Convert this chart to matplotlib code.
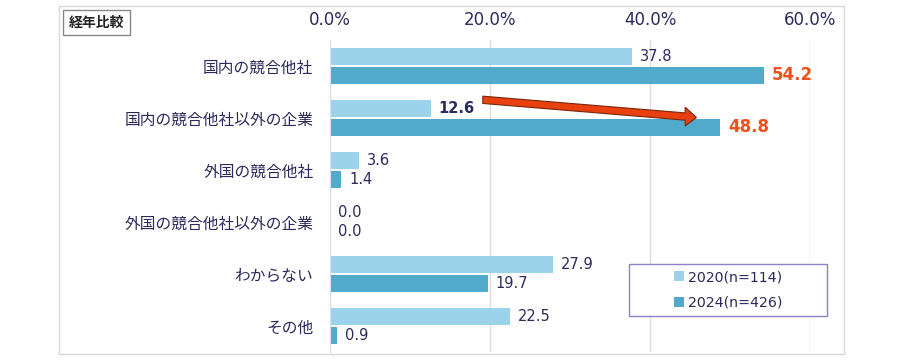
import matplotlib.pyplot as plt
import numpy as np
from matplotlib.patches import Rectangle, FancyArrow

plt.rcParams['font.family'] = ['DejaVu Sans', 'Noto Sans CJK JP']

categories = ['国内の競合他社', '国内の競合他社以外の企業', '外国の競合他社',
              '外国の競合他社以外の企業', 'わからない', 'その他']
values_2020 = [37.8, 12.6, 3.6, 0.0, 27.9, 22.5]
values_2024 = [54.2, 48.8, 1.4, 0.0, 19.7, 0.9]
series_names = ['2020(n=114)', '2024(n=426)']
xticks = [0, 20, 40, 60]

c_light = '#9dd3ea'
c_dark = '#52aacb'
navy = '#2a2a5c'
orange = '#f0501c'

fig = plt.figure(figsize=(9.04, 3.6), dpi=100)
ax = fig.add_axes([330 / 904, 1 - 352 / 360, 480 / 904, 312 / 360])

y = np.arange(len(categories))
h = 0.33
gap = 0.03
ax.barh(y - h / 2 - gap / 2, values_2020, height=h, color=c_light, label=series_names[0], zorder=2)
ax.barh(y + h / 2 + gap / 2, values_2024, height=h, color=c_dark, label=series_names[1], zorder=2)

ax.set_xlim(0, 60)
ax.set_ylim(len(categories) - 0.5, -0.5)
ax.set_xticks(xticks)
ax.set_xticklabels([f'{t:.1f}%' for t in xticks], fontsize=12, color=navy)
ax.xaxis.tick_top()
ax.tick_params(axis='x', length=0, pad=8)
ax.set_yticks(y)
ax.set_yticklabels(categories, fontsize=11.3, color=navy,
                   family=['Noto Sans CJK JP', 'DejaVu Sans'])
ax.tick_params(axis='y', length=0, pad=12)
ax.grid(axis='x', color='#dcdcec', lw=1, zorder=0)
for s in ['top', 'right', 'bottom']:
    ax.spines[s].set_visible(False)
ax.spines['left'].set_color('#dcdcec')

for i, (a, b) in enumerate(zip(values_2020, values_2024)):
    if i == 1:
        ax.text(a + 1, y[i] - h / 2 - gap / 2, f'{a:.1f}', va='center', ha='left',
                fontsize=10.5, color=navy, fontweight='bold')
    else:
        ax.text(a + 1, y[i] - h / 2 - gap / 2, f'{a:.1f}', va='center', ha='left',
                fontsize=10.5, color=navy)
    if i in (0, 1):
        ax.text(b + 1, y[i] + h / 2 + gap / 2, f'{b:.1f}', va='center', ha='left',
                fontsize=12, color=orange, fontweight='bold')
    else:
        ax.text(b + 1, y[i] + h / 2 + gap / 2, f'{b:.1f}', va='center', ha='left',
                fontsize=10.5, color=navy)

# arrow from 2020 label to 2024 bar end
x0 = values_2020[1] + 6.5
x1 = values_2024[1] - 3.0
y0 = y[1] - 0.35
y1 = y[1] - 0.01
ax.add_patch(FancyArrow(x0, y0, x1 - x0, y1 - y0, width=0.14, head_width=0.36,
                        head_length=1.4, length_includes_head=True,
                        facecolor='#e8400e', edgecolor='#7a2608', lw=0.8, zorder=5))

# legend: framed box with centred entries
ax.add_patch(Rectangle((0.623, 0.115), 0.412, 0.167, transform=ax.transAxes,
                       fill=True, facecolor='white', edgecolor='#8c82c8', lw=1,
                       clip_on=False, zorder=6))
leg = ax.legend(loc='center', bbox_to_anchor=(0.829, 0.1985), fontsize=10.2,
                frameon=False, handlelength=0.7, handleheight=0.7,
                labelspacing=0.8, handletextpad=0.3, borderaxespad=0, borderpad=0)
leg.set_zorder(7)
for t in leg.get_texts():
    t.set_color(navy)

# outer frame and title box
fig.patches.append(Rectangle((59 / 904, 1 - 354 / 360), 785 / 904, 348 / 360,
                             transform=fig.transFigure, fill=False,
                             edgecolor='#d8d8d8', lw=1))
fig.text(96.5 / 904, 1 - 22.5 / 360, '経年比較', ha='center', va='center', fontsize=10,
         fontweight='bold', color='#222222', family=['Noto Sans CJK JP'],
         bbox=dict(boxstyle='square,pad=0.4', fc='white', ec='#888888', lw=1))

fig.savefig('out.png', dpi=100)
